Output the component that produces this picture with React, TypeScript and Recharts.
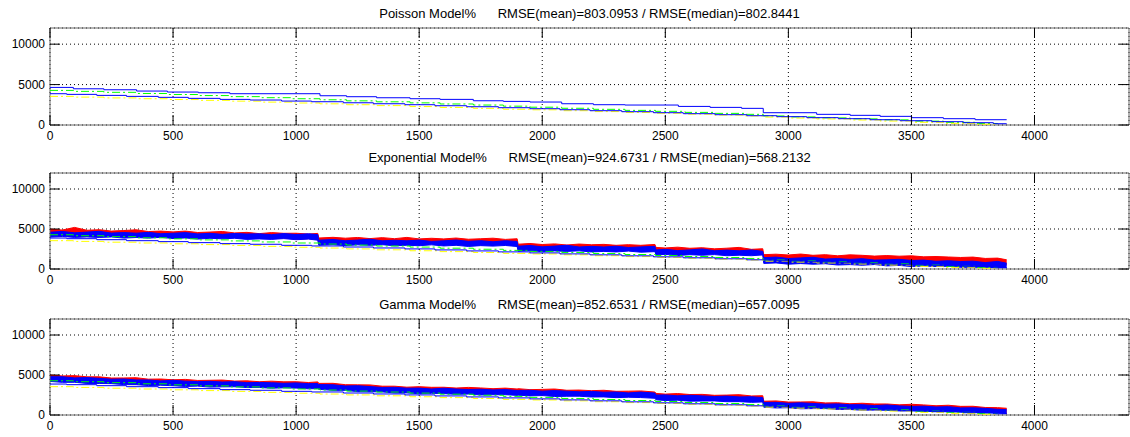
import React from 'react';
import { ComposedChart, Line, Area, XAxis, YAxis, CartesianGrid, ReferenceArea } from 'recharts';

// axes
const X_MAX = 4384;
const Y_MAX = 12000;
const xTicks = [0, 500, 1000, 1500, 2000, 2500, 3000, 3500, 4000];
const yTicks = [0, 5000, 10000];

const titles = [
  'Poisson Model%      RMSE(mean)=803.0953 / RMSE(median)=802.8441',
  'Exponential Model%      RMSE(mean)=924.6731 / RMSE(median)=568.2132',
  'Gamma Model%      RMSE(mean)=852.6531 / RMSE(median)=657.0095',
];

// reference lines shared by all three panels (stairs)
const lowStairX = [0, 68, 190, 311, 440, 562, 691, 813, 941, 1063, 1192, 1314, 1442, 1564, 1693, 1822, 1950, 2072, 2194, 2323, 2452, 2573, 2702, 2831, 2953, 3075, 3203, 3332, 3454, 3583, 3711, 3833, 3887];
const lowStairY = [3870, 3790, 3665, 3540, 3420, 3295, 3170, 3090, 2960, 2880, 2750, 2630, 2510, 2385, 2260, 2140, 2015, 1890, 1770, 1645, 1520, 1400, 1275, 1150, 1030, 905, 780, 655, 530, 410, 285, 160, 160];

const dashX = [0, 95, 219, 352, 477, 603, 731, 860, 985, 1097, 1205, 1327, 1463, 1585, 1720, 1842, 1950, 2079, 2208, 2336, 2460, 2580, 2700, 2820, 2898, 3000, 3115, 3251, 3373, 3501, 3630, 3759, 3850];
const greenY = [4280, 4160, 4040, 3900, 3770, 3640, 3510, 3380, 3250, 3120, 2990, 2870, 2740, 2600, 2470, 2330, 2200, 2070, 1940, 1810, 1690, 1560, 1440, 1320, 1120, 1000, 880, 760, 640, 480, 330, 190, 120];
const yellowY = [3540, 3450, 3350, 3250, 3150, 3050, 2950, 2830, 2720, 2620, 2510, 2400, 2280, 2170, 2060, 1950, 1880, 1770, 1660, 1550, 1450, 1340, 1230, 1120, 980, 860, 750, 620, 490, 330, 200, 90, 50];

// Poisson panel: model stairs
const poisX = [0, 95, 219, 352, 477, 603, 731, 1097, 1205, 1327, 1463, 1585, 1720, 1842, 1950, 2079, 2208, 2336, 2553, 2682, 2810, 2898, 3115, 3251, 3373, 3501, 3630, 3759, 3887];
const poisY = [4650, 4480, 4360, 4200, 4075, 3990, 3870, 3620, 3500, 3370, 3250, 3170, 3000, 2920, 2840, 2630, 2510, 2470, 2300, 2180, 2060, 1520, 1320, 1195, 1070, 905, 780, 655, 655];

// noisy series, read as low/high envelopes
const noiseX = [0, 50, 100, 150, 200, 250, 300, 350, 400, 450, 500, 550, 600, 650, 700, 750, 800, 850, 900, 950, 1000, 1050, 1088,
  1092, 1150, 1200, 1250, 1300, 1350, 1400, 1450, 1500, 1550, 1600, 1650, 1700, 1750, 1800, 1850, 1898,
  1902, 1950, 2000, 2050, 2100, 2150, 2200, 2250, 2300, 2350, 2400, 2458,
  2462, 2500, 2550, 2600, 2650, 2700, 2750, 2800, 2850, 2896,
  2900, 2950, 3000, 3050, 3100, 3150, 3200, 3250, 3300, 3350, 3400, 3450, 3500, 3550, 3600, 3650, 3700, 3750, 3800, 3850, 3887];

const expRedHi = [4990, 4870, 5200, 4840, 4910, 4740, 4810, 4900, 4680, 4740, 4640, 4740, 4560, 4620, 4690, 4510, 4580, 4420, 4550, 4460, 4470, 4370, 4450,
  3870, 3960, 3850, 3940, 3800, 3920, 3790, 3950, 3760, 3840, 3760, 3870, 3720, 3780, 3850, 3700, 3780,
  3100, 3190, 3060, 3140, 3000, 3120, 3030, 3080, 2960, 3040, 2960, 3070,
  2700, 2630, 2730, 2590, 2660, 2520, 2600, 2700, 2460, 2530,
  1790, 1850, 1750, 1870, 1710, 1790, 1650, 1770, 1710, 1610, 1680, 1600, 1650, 1520, 1560, 1500, 1440, 1490, 1320, 1360, 1150];
const expRedLo = [4230, 4300, 4150, 4230, 4150, 4220, 4060, 4110, 4040, 4130, 3970, 4040, 3880, 3970, 3900, 3960, 3810, 3860, 3790, 3880, 3730, 3800, 3700,
  3220, 3270, 3130, 3230, 3170, 3250, 3110, 3180, 3120, 3230, 3090, 3170, 3030, 3130, 3070, 3150, 3010,
  2450, 2520, 2370, 2460, 2390, 2460, 2310, 2380, 2320, 2430, 2290, 2370,
  1980, 2050, 1890, 1980, 1910, 1980, 1830, 1890, 1820, 1920,
  1130, 1200, 1050, 1140, 1070, 1140, 990, 1050, 980, 1070, 920, 980, 830, 910, 830, 890, 720, 750, 650, 710, 490];
const expBlueHi = [4600, 4690, 4520, 4610, 4710, 4490, 4560, 4480, 4580, 4410, 4470, 4550, 4380, 4460, 4330, 4440, 4370, 4400, 4290, 4430, 4310, 4400, 4300,
  3600, 3690, 3530, 3620, 3730, 3520, 3590, 3520, 3610, 3450, 3520, 3620, 3460, 3540, 3400, 3530, 3440,
  2850, 2940, 2770, 2860, 2970, 2750, 2830, 2750, 2850, 2690, 2760, 2830,
  2380, 2460, 2300, 2390, 2500, 2280, 2360, 2270, 2380, 2210,
  1420, 1490, 1310, 1390, 1470, 1240, 1300, 1200, 1290, 1110, 1150, 1210, 1070, 1110, 960, 1030, 930, 980, 800, 950, 720];
const expBlueLo = [3990, 4070, 3950, 4010, 3940, 4010, 3860, 3940, 3860, 3960, 3810, 3890, 3740, 3840, 3770, 3840, 3700, 3760, 3700, 3800, 3660, 3740, 3600,
  2980, 3060, 2920, 3020, 2960, 3040, 2900, 2970, 2910, 3020, 2880, 2960, 2820, 2920, 2860, 2940, 2810,
  2230, 2310, 2160, 2260, 2200, 2270, 2130, 2200, 2130, 2240, 2100, 2170,
  1760, 1830, 1690, 1790, 1720, 1800, 1660, 1720, 1660, 1760,
  700, 760, 600, 680, 600, 660, 500, 550, 470, 560, 390, 450, 310, 380, 310, 350, 210, 230, 180, 200, 180];

const gamRedHi = [5000, 4880, 4920, 4770, 4770, 4620, 4630, 4660, 4480, 4500, 4400, 4450, 4320, 4340, 4370, 4240, 4270, 4160, 4230, 4150, 4160, 4060, 4140,
  3950, 3960, 3790, 3770, 3760, 3600, 3600, 3480, 3540, 3460, 3470, 3370, 3450, 3380, 3290, 3360, 3250,
  3290, 3170, 3200, 3250, 3090, 3120, 3040, 3090, 2960, 2980, 3010, 2870,
  2700, 2610, 2680, 2560, 2580, 2460, 2490, 2540, 2380, 2410,
  1720, 1760, 1620, 1630, 1650, 1510, 1530, 1410, 1470, 1380, 1380, 1270, 1340, 1260, 1160, 1220, 1080, 1090, 940, 920, 840];
const gamRedLo = [4370, 4370, 4220, 4230, 4140, 4140, 4000, 4000, 3920, 3960, 3830, 3860, 3740, 3780, 3720, 3750, 3630, 3650, 3590, 3640, 3530, 3560, 3440,
  3380, 3370, 3210, 3210, 3110, 3110, 2960, 2970, 2900, 2950, 2840, 2870, 2750, 2790, 2730, 2760, 2650,
  2680, 2620, 2670, 2560, 2590, 2470, 2510, 2450, 2480, 2360, 2380, 2310,
  2070, 2100, 1980, 2020, 1950, 1980, 1860, 1880, 1820, 1870,
  1150, 1170, 1040, 1070, 1000, 1020, 890, 900, 830, 870, 750, 770, 640, 670, 600, 620, 480, 480, 390, 390, 190];
const gamBlueHi = [4790, 4780, 4640, 4680, 4580, 4470, 4500, 4380, 4380, 4260, 4340, 4230, 4170, 4210, 4120, 4170, 4040, 4070, 4030, 3960, 4010, 3920, 3930,
  3800, 3780, 3630, 3660, 3550, 3440, 3460, 3350, 3360, 3250, 3350, 3240, 3180, 3220, 3130, 3180, 3060,
  3070, 3090, 2980, 3050, 2980, 2900, 2950, 2850, 2870, 2760, 2860, 2740,
  2490, 2510, 2400, 2470, 2390, 2310, 2360, 2260, 2280, 2170,
  1570, 1580, 1460, 1520, 1440, 1350, 1390, 1280, 1290, 1170, 1260, 1140, 1070, 1100, 1000, 1040, 890, 900, 830, 710, 670];
const gamBlueLo = [4200, 4080, 4090, 3940, 3940, 3920, 3800, 3790, 3680, 3720, 3660, 3570, 3610, 3490, 3520, 3530, 3430, 3440, 3350, 3400, 3360, 3270, 3310,
  3210, 3080, 3080, 2920, 2910, 2890, 2760, 2760, 2660, 2710, 2670, 2580, 2620, 2500, 2530, 2540, 2450,
  2480, 2390, 2430, 2310, 2340, 2350, 2250, 2260, 2170, 2220, 2180, 2090,
  1900, 1810, 1850, 1730, 1750, 1760, 1660, 1670, 1580, 1630,
  980, 880, 910, 780, 800, 800, 690, 690, 590, 630, 590, 510, 540, 430, 450, 460, 350, 350, 250, 250, 180];

const pts = (xs: number[], ys: number[]) => xs.map((x, i) => ({ x, y: ys[i] }));
const band = (xs: number[], lo: number[], hi: number[]) => xs.map((x, i) => ({ x, y: [lo[i], hi[i]] }));

const FONT = '"Liberation Sans", Arial, Helvetica, sans-serif';
const CHART_W = 1130;
const PLOT_L = 50;
const PLOT_R = 1129;
const PLOT_TOP = 28;
const TICK = 10;
const DASHDOT = '8 3 2 3';

function Panel({ top, plotH, kind }: { top: number; plotH: number; kind: 'pois' | 'exp' | 'gam' }) {
  const plotBottom = PLOT_TOP + plotH;
  const height = plotBottom + 20;

  const xTick = (props: any) => {
    const { x, payload } = props;
    return (
      <g>
        <line x1={x} x2={x} y1={plotBottom} y2={plotBottom - TICK} stroke="#000" />
        <line x1={x} x2={x} y1={PLOT_TOP} y2={PLOT_TOP + TICK} stroke="#000" />
        <text x={x} y={plotBottom + 15} textAnchor="middle" fontSize={12} fontFamily={FONT} fill="#000">
          {payload.value}
        </text>
      </g>
    );
  };

  const yTick = (props: any) => {
    const { y, payload } = props;
    return (
      <g>
        <line x1={PLOT_L} x2={PLOT_L + TICK} y1={y} y2={y} stroke="#000" />
        <line x1={PLOT_R} x2={PLOT_R - TICK} y1={y} y2={y} stroke="#000" />
        <text x={PLOT_L - 5} y={y + 4} textAnchor="end" fontSize={12} fontFamily={FONT} fill="#000">
          {payload.value}
        </text>
      </g>
    );
  };

  const redBand = kind === 'exp' ? band(noiseX, expRedLo, expRedHi) : band(noiseX, gamRedLo, gamRedHi);
  const blueBand = kind === 'exp' ? band(noiseX, expBlueLo, expBlueHi) : band(noiseX, gamBlueLo, gamBlueHi);

  return (
    <div style={{ position: 'absolute', left: 0, top }}>
      <ComposedChart width={CHART_W} height={height} margin={{ top: PLOT_TOP, right: CHART_W - PLOT_R, bottom: 0, left: 0 }}>
        <CartesianGrid stroke="#000" strokeDasharray="1 3" />
        <XAxis
          dataKey="x"
          type="number"
          domain={[0, X_MAX]}
          ticks={xTicks}
          height={20}
          axisLine={false}
          tickLine={false}
          tickSize={0}
          tick={xTick}
          allowDataOverflow
        />
        <YAxis
          type="number"
          domain={[0, Y_MAX]}
          ticks={yTicks}
          width={PLOT_L}
          axisLine={false}
          tickLine={false}
          tickSize={0}
          tick={yTick}
          allowDataOverflow
        />

        <Line data={pts(dashX, greenY)} dataKey="y" type="stepAfter" stroke="#00FF00" strokeWidth={1} strokeDasharray={DASHDOT} dot={false} activeDot={false} isAnimationActive={false} />
        <Line data={pts(dashX, yellowY)} dataKey="y" type="stepAfter" stroke="#FFFF00" strokeWidth={1} strokeDasharray={DASHDOT} dot={false} activeDot={false} isAnimationActive={false} />
        <Line data={pts(lowStairX, lowStairY)} dataKey="y" type="stepAfter" stroke="#0000FF" strokeWidth={1} dot={false} activeDot={false} isAnimationActive={false} />

        {kind === 'pois' && (
          <Line data={pts(poisX, poisY)} dataKey="y" type="stepAfter" stroke="#0000FF" strokeWidth={1} dot={false} activeDot={false} isAnimationActive={false} />
        )}

        {kind !== 'pois' && (
          <Area data={redBand} dataKey="y" type="linear" stroke="#FF0000" strokeWidth={1} fill="#FF0000" fillOpacity={1} dot={false} activeDot={false} isAnimationActive={false} />
        )}
        {kind !== 'pois' && (
          <Area data={blueBand} dataKey="y" type="linear" stroke="#0000FF" strokeWidth={1} fill="#0000FF" fillOpacity={1} dot={false} activeDot={false} isAnimationActive={false} />
        )}

        <ReferenceArea x1={0} x2={X_MAX} y1={0} y2={Y_MAX} fill="none" stroke="#666" strokeWidth={1} />
      </ComposedChart>
    </div>
  );
}

const titleCenters = [13.5, 158, 304.5];

export default function App() {
  return (
    <div style={{ position: 'absolute', left: 0, top: 0, width: 1130, height: 437, background: '#fff', overflow: 'hidden' }}>
      {titles.map((t, i) => (
        <div
          key={i}
          style={{
            position: 'absolute',
            left: (PLOT_L + PLOT_R) / 2,
            top: titleCenters[i] - 7,
            transform: 'translateX(-50%)',
            fontFamily: FONT,
            fontSize: 13,
            lineHeight: '14px',
            whiteSpace: 'pre',
            color: '#000',
          }}
        >
          {t}
        </div>
      ))}
      <Panel top={0} plotH={97} kind="pois" />
      <Panel top={145} plotH={96} kind="exp" />
      <Panel top={291} plotH={96} kind="gam" />
    </div>
  );
}
